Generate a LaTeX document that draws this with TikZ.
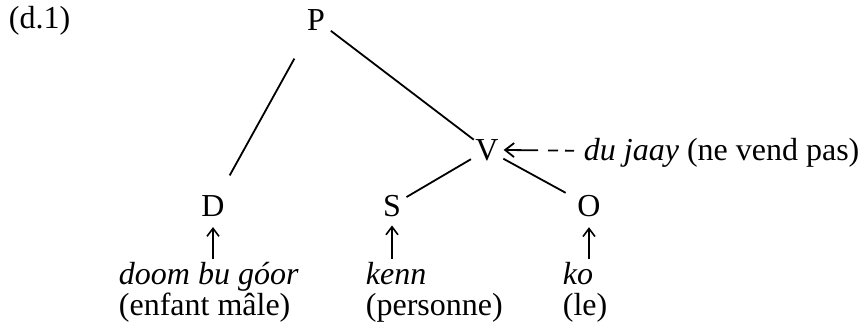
\documentclass[tikz,border=0pt]{standalone}
\usepackage{fontspec}
\setmainfont{Liberation Serif}
\usetikzlibrary{arrows.meta,positioning}

\begin{document}
\begin{tikzpicture}[x=0.5pt,y=-0.5pt, line width=0.9pt,
    every node/.style={font=\fontsize{16}{18}\selectfont},
    cat/.style={circle,inner sep=0pt,minimum size=13pt,anchor=base},
    word/.style={inner sep=0pt,anchor=base west},
    up/.style={-{Straight Barb[length=4pt,width=6pt]},line width=0.8pt},
    gl/.style={{Straight Barb[length=4.5pt,width=7pt]}-,
      dash pattern=on 16pt off 5pt on 5pt off 3.5pt on 4.5pt off 5pt}]
  \useasboundingbox (0,0) rectangle (866,333);
  \node[word] (lab) at (8,28) {(d.1)};
  % tree
  \node[cat] (P) at (316,30) {P};
  \node[cat] (V) at (487,160) {V};
  \node[cat] (D) at (213,216) {D};
  \node[cat] (S) at (392,216) {S};
  \node[cat] (O) at (589,216) {O};
  \foreach \a/\b/\s/\t in {P/D/15pt/9pt,P/V/2pt/0pt,V/S/1pt/1pt,V/O/1pt/5pt}
    \draw[shorten <=\s,shorten >=\t] (\a)--(\b);
  % lexical items
  \node[word] (vgl) at (583,160) {\textit{du jaay} (ne vend pas)};
  \draw[gl] (V)--(vgl);
  \node[word] (dw) at (118,284) {\textit{doom bu góor}};
  \node[word] (dg) at (118,315) {(enfant mâle)};
  \node[word] (sw) at (365,284) {\textit{kenn}};
  \node[word] (sg) at (365,315) {(personne)};
  \node[word] (ow) at (562,284) {\textit{ko}};
  \node[word] (og) at (562,315) {(le)};
  \foreach \c/\w in {D/dw,S/sw,O/ow}
    \draw[up,shorten <=1pt,shorten >=2.5pt] (\c |- \w.north)--(\c);
\end{tikzpicture}
\end{document}
